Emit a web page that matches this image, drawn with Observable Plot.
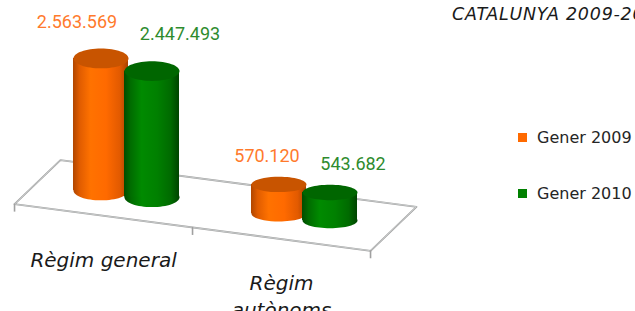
<!DOCTYPE html>
<html>
<head>
<meta charset="utf-8">
<script src="https://cdn.jsdelivr.net/npm/d3@7"></script>
<script src="https://cdn.jsdelivr.net/npm/@observablehq/plot@0.6"></script>
<style>
  html, body { margin: 0; padding: 0; background: #fff; }
  #chart { position: relative; width: 635px; height: 311px; overflow: hidden; font-family: "DejaVu Sans", sans-serif; }
  #chart svg { position: absolute; left: 0; top: 0; }
  .title { position: absolute; left: 452px; top: 4px; font-size: 17.5px; line-height: 20px; font-style: italic; color: #1a1a1a; white-space: nowrap; letter-spacing: 0.75px; }
  .legend-item { position: absolute; left: 518px; height: 16px; line-height: 16px; font-size: 16px; color: #262626; white-space: nowrap; }
  .legend-item .sw { position: absolute; left: 0; top: 3px; width: 9px; height: 9px; }
  .legend-item .lb { position: absolute; left: 19px; top: 0; }
</style>
</head>
<body>
<div id="chart"></div>
<script>
// ---- data ----
const categories = ["Règim general", "Règim\nautònoms"];
const series = ["Gener 2009", "Gener 2010"];
const values2009 = [2563569, 570120];
const values2010 = [2447493, 543682];
const titleText = "CATALUNYA 2009-2010";

// ---- style ----
const seriesColors = ["#ff6a00", "#008000"];
const topColors = ["#c85400", "#006600"];
const labelColors = ["#ff7a2c", "#2e8b2e"];
const bodyStops = [
  [[0, "#b04600"], [0.12, "#e05c00"], [0.32, "#ff7200"], [0.6, "#ff6a00"], [0.85, "#e25a00"], [1, "#a84200"]],
  [[0, "#004c00"], [0.12, "#006c00"], [0.32, "#008a00"], [0.6, "#008000"], [0.85, "#006a00"], [1, "#004400"]]
];

// ---- layout (pseudo-3D) ----
const seriesOffset = [-0.1433, 0.1433];   // x-units within a category
const halfWidth = 0.1545;                // cylinder half width in x-units
const radiusPx = 27.5;
const ellipseRatio = [0.36, 0.28];       // per category (perspective)
const floorSlope = -452800;              // value units per x-unit
const depthDx = 0.129, depthDv = 427184; // one unit of depth
const floorV = xu => floorSlope * xu;
const tickLen = 155000;
const labelDx = [[-24, -12], [28, 23]];  // [series][category]
const labelDy = [-36.5, -28];            // per category
const fmt = d3.formatLocale({decimal: ",", thousands: ".", grouping: [3], currency: ["", "€"]}).format(",d");

const valuesBySeries = [values2009, values2010];
const rows = [];
series.forEach((s, si) => categories.forEach((c, ci) => {
  const xc = ci + seriesOffset[si];
  const base = floorV(xc);
  rows.push({series: s, si, category: c, ci, value: valuesBySeries[si][ci], xc, base, top: base + valuesBySeries[si][ci]});
}));

// floor plane (categories span -0.5 .. n-0.5 at depth 0)
const fp = (xu, d) => ({x: xu + d * depthDx, y: floorV(xu) + d * depthDv});
const xl = -0.5, xr = categories.length - 0.5;
const floorPts = [fp(xl, -1), fp(xl, 1), fp(xr, 1), fp(xr, -1), fp(xl, -1)];
const tickPts = d3.range(categories.length + 1).map(i => fp(i - 0.5, -1));

const ellipseSymbol = ratio => ({
  draw(ctx, size) {
    const rx = Math.sqrt(size / Math.PI), ry = rx * ratio, k = 0.5523;
    ctx.moveTo(rx, 0);
    ctx.bezierCurveTo(rx, ry * k, rx * k, ry, 0, ry);
    ctx.bezierCurveTo(-rx * k, ry, -rx, ry * k, -rx, 0);
    ctx.bezierCurveTo(-rx, -ry * k, -rx * k, -ry, 0, -ry);
    ctx.bezierCurveTo(rx * k, -ry, rx, -ry * k, rx, 0);
    ctx.closePath();
  }
});

const marks = [
  Plot.line(floorPts, {x: "x", y: "y", stroke: "#a0a0a0", strokeWidth: 1.8}),
  Plot.line(floorPts, {x: "x", y: "y", stroke: "#e2e8e8", strokeWidth: 0.6}),
  Plot.ruleX(tickPts, {x: "x", y1: "y", y2: d => d.y - tickLen, stroke: "#a0a0a0", strokeWidth: 1.6})
];

series.forEach((s, si) => {
  categories.forEach((c, ci) => {
    const r = rows.filter(d => d.si === si && d.ci === ci);
    const sym = ellipseSymbol(ellipseRatio[ci]);
    marks.push(
      Plot.dot(r, {x: "xc", y: "base", r: radiusPx, symbol: sym, fill: () => `url(#body${si})`, stroke: "none"}),
      Plot.rect(r, {x1: d => d.xc - halfWidth, x2: d => d.xc + halfWidth, y1: "base", y2: "top", fill: () => `url(#body${si})`}),
      Plot.dot(r, {x: "xc", y: "top", r: radiusPx, symbol: sym, fill: topColors[si], stroke: "none"})
    );
  });
});

rows.forEach(d => {
  marks.push(Plot.text([d], {
    x: "xc", y: "top", text: r => fmt(r.value),
    dx: labelDx[d.si][d.ci], dy: labelDy[d.ci],
    fill: labelColors[d.si], fontSize: 18, fontFamily: "Roboto, sans-serif", textAnchor: "middle"
  }));
});

marks.push(Plot.text(categories.map((c, ci) => ({c, ci})), {
  x: d => d.ci - depthDx, y: d => floorV(d.ci) - depthDv, text: "c",
  dy: 32, lineAnchor: "top", lineHeight: 1.33, textAnchor: "middle",
  fontSize: 20, fontStyle: "italic", fontFamily: "DejaVu Sans, sans-serif", fill: "#1a1a1a"
}));

const svg = Plot.plot({
  width: 635, height: 311, margin: 0,
  x: {domain: [0, 1], range: [126, 304], axis: null},
  y: {domain: [0, 1e6], range: [193.3, 141.8], axis: null},
  color: {type: "identity"},
  style: {background: "transparent", overflow: "visible"},
  marks
});

const defs = d3.select(svg).insert("defs", ":first-child");
bodyStops.forEach((stops, si) => {
  const g = defs.append("linearGradient").attr("id", `body${si}`).attr("x1", 0).attr("x2", 1).attr("y1", 0).attr("y2", 0);
  stops.forEach(([o, c]) => g.append("stop").attr("offset", o).attr("stop-color", c));
});

const chart = document.getElementById("chart");
chart.appendChild(svg);

const t = document.createElement("div");
t.className = "title";
t.textContent = titleText;
chart.appendChild(t);

const legendTops = [130, 186];
series.forEach((s, si) => {
  const it = document.createElement("div");
  it.className = "legend-item";
  it.style.top = legendTops[si] + "px";
  const sw = document.createElement("span"); sw.className = "sw"; sw.style.background = seriesColors[si];
  const lb = document.createElement("span"); lb.className = "lb"; lb.textContent = s;
  it.appendChild(sw); it.appendChild(lb);
  chart.appendChild(it);
});
</script>
</body>
</html>
